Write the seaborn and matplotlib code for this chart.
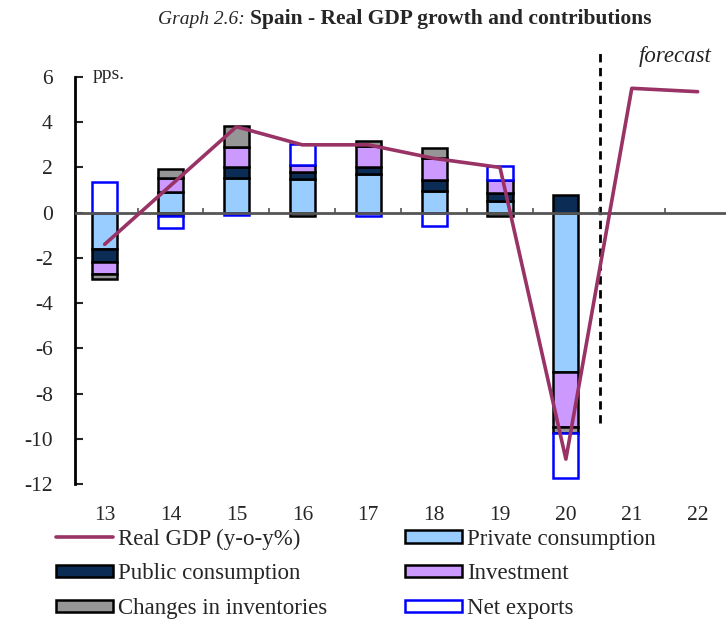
import numpy as np
import matplotlib.pyplot as plt
import seaborn as sns
from matplotlib.lines import Line2D

# data (pps., years 2013-2022)
years = ["13", "14", "15", "16", "17", "18", "19", "20", "21", "22"]
gdp = [-1.4, 1.2, 3.8, 3.0, 3.0, 2.4, 2.0, -10.9, 5.5, 5.35]

# contributions only for 2013-2020
private_cons = [-1.6, 0.9, 1.55, 1.5, 1.7, 0.95, 0.5, -7.05]
public_cons = [-0.6, -0.15, 0.45, 0.3, 0.3, 0.5, 0.35, 0.8]
investment = [-0.5, 0.65, 0.9, 0.3, 0.95, 0.95, 0.6, -2.45]
inventories = [-0.22, 0.4, 0.95, -0.15, 0.2, 0.45, -0.15, -0.25]
net_exports = [1.37, -0.55, -0.1, 0.95, -0.15, -0.6, 0.6, -2.0]

series = [
    ("Private consumption", private_cons, "#99CCFF", "black"),
    ("Public consumption", public_cons, "#0B2C55", "black"),
    ("Investment", investment, "#CC99FF", "black"),
    ("Changes in inventories", inventories, "#969696", "black"),
    ("Net exports", net_exports, "white", "#0000FF"),
]

GDP_COLOR = "#993366"
SERIF = ["Liberation Serif", "DejaVu Serif"]

sns.set_theme(style="white")
plt.rcParams["font.family"] = SERIF
plt.rcParams["axes.unicode_minus"] = False

fig = plt.figure(figsize=(7.26, 6.2), dpi=100)
ax = fig.add_axes([75 / 726, 1 - 484 / 620, 1 - 75 / 726, (484 - 77) / 620])

x = np.arange(len(years))
xb = x[:len(private_cons)]

# stacked bars, positives and negatives stacked separately
pos_base = np.zeros(len(xb))
neg_base = np.zeros(len(xb))
bars = {}
for name, vals, face, edge in series:
    vals = np.array(vals)
    bottom = np.where(vals >= 0, pos_base, neg_base)
    bars[name] = ax.bar(xb, vals, width=0.38, bottom=bottom, color=face,
                        edgecolor=edge, linewidth=1.8, zorder=2)
    pos_base = pos_base + np.clip(vals, 0, None)
    neg_base = neg_base + np.clip(vals, None, 0)

# zero line with small ticks between categories
ax.axhline(0, color="#555555", lw=2, zorder=3)
ax.vlines(x[:-1] + 0.5, 0, 0.2, color="#555555", lw=1.2, zorder=3)

sns.lineplot(x=x, y=gdp, ax=ax, color=GDP_COLOR, linewidth=2.6, zorder=4,
             legend=False)
if ax.get_legend() is not None:
    ax.get_legend().remove()

# forecast separator
ax.vlines(7.52, -9.3, 7.3, color="black", lw=2, linestyles=(0, (3, 2)),
          clip_on=False, zorder=1)
ax.text(8.1, 6.9, "forecast", fontsize=16.5, style="italic", va="center",
        ha="left", color="#222222")
ax.text(-0.18, 6.1, "pps.", fontsize=14, va="center", ha="left")

ax.set_xlim(-0.45, 9.43)
ax.set_ylim(-12, 6)
ax.set_yticks(np.arange(-12, 7, 2))
ax.set_xticks(x)
ax.set_xticklabels(years)
ax.tick_params(axis="x", length=0, pad=16, labelsize=15.5)
ax.tick_params(axis="y", direction="in", length=6, width=1.5, pad=16,
               labelsize=15.5, left=True)
for side in ["top", "right", "bottom"]:
    ax.spines[side].set_visible(False)
ax.spines["left"].set_color("black")
ax.spines["left"].set_linewidth(2)
ax.grid(False)

# title: italic prefix + bold text
fig.text(0.344, 0.969, "Graph 2.6: ", fontsize=14, style="italic",
         ha="right", va="center")
fig.text(0.344, 0.969, "Spain - Real GDP growth and contributions",
         fontsize=15.5, weight="bold", ha="left", va="center")

# legend, ordered so it reads row by row
gdp_handle = Line2D([], [], color=GDP_COLOR, lw=2.6)
handles = [gdp_handle, bars["Public consumption"], bars["Changes in inventories"],
           bars["Private consumption"], bars["Investment"], bars["Net exports"]]
labels = ["Real GDP (y-o-y%)", "Public consumption", "Changes in inventories",
          "Private consumption", "Investment", "Net exports"]
fig.legend(handles, labels, ncol=2, loc="upper left",
           bbox_to_anchor=(45 / 726, 1 - 517 / 620), frameon=False,
           fontsize=16.5, handlelength=2.45, handleheight=0.45,
           handletextpad=0.25, columnspacing=3.4, labelspacing=0.6,
           borderpad=0)

fig.savefig("out.png", dpi=100)
